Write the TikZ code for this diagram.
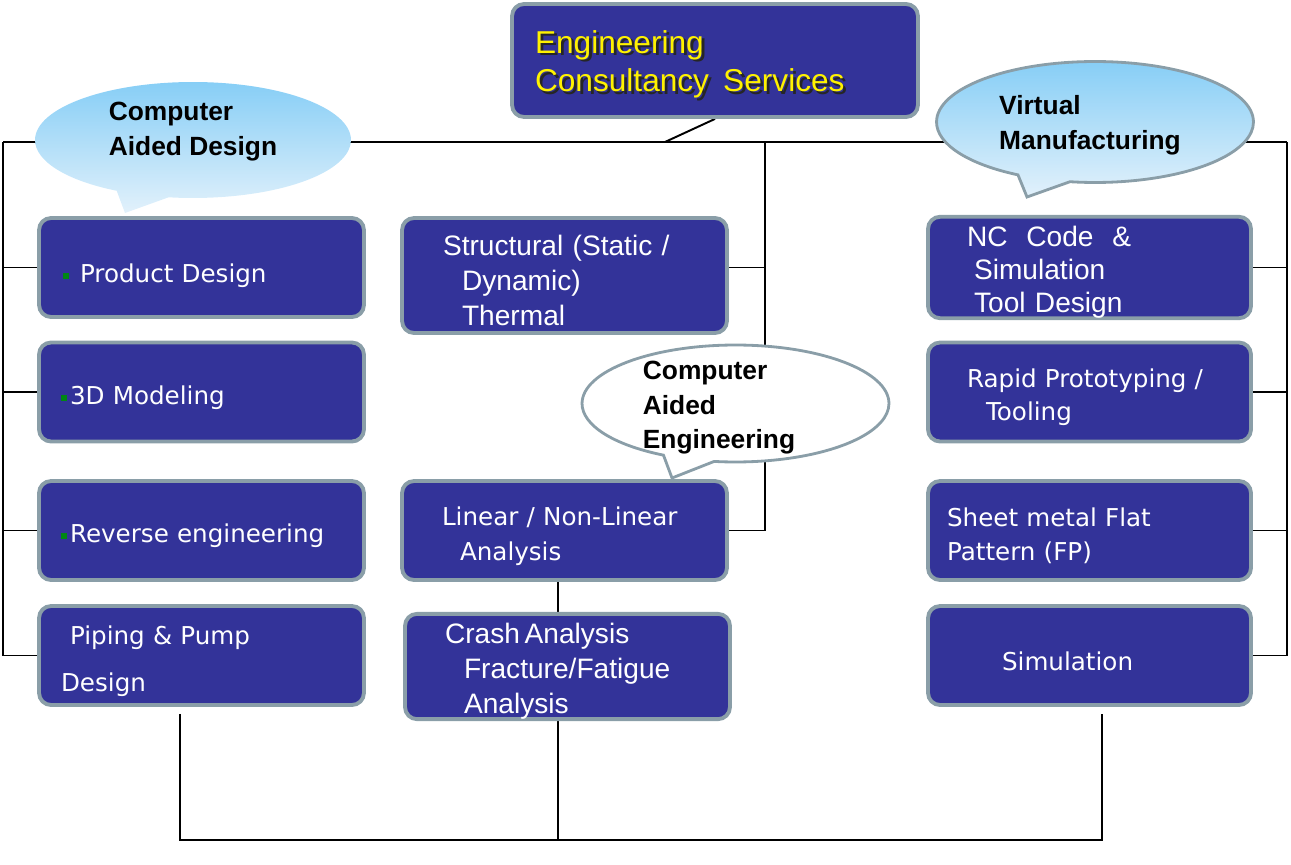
\documentclass[tikz,border=0pt]{standalone}
\usepackage{xcolor}
\usepackage{fontspec}
\setmainfont{Liberation Sans}
\newfontfamily\tahoma{DejaVu Sans}
\usepackage{tikz}
\usetikzlibrary{shapes.callouts}

\definecolor{boxblue}{RGB}{51,51,153}
\definecolor{boxrim}{RGB}{138,158,168}
\definecolor{skyblue}{RGB}{135,206,246}
\definecolor{paleblue}{RGB}{226,241,251}
\definecolor{bulletgreen}{RGB}{0,135,20}

\newlength\pxlen
\setlength\pxlen{0.02cm}
\newcommand\ind[1]{\hspace*{#1\pxlen}}
\newcommand\greendot{{\color{bulletgreen}\rule[0.07cm]{0.12cm}{0.12cm}}}
\newcommand\shadowed[1]{\makebox[0pt][l]{\kern1.6pt\raisebox{-1.6pt}{\color{black!85}#1}}{\color{yellow}#1}}
\newcommand\cloudtext[2]{\raisebox{#1}[0pt][0pt]{\begin{tabular}{@{}l@{}}#2\end{tabular}}}

\pgfdeclarelayer{background}
\pgfsetlayers{background,main}

\tikzset{
  service/.style={draw=boxrim, line width=2.2pt, fill=boxblue, rounded corners=0.24cm,
    text=white, align=left, inner sep=0pt, text width=6.5cm, minimum height=1.98cm,
    font=\fontsize{16}{19.8}\selectfont, execute at begin node=\rule{0pt}{17pt}},
  tservice/.style={service, font=\tahoma\fontsize{14}{19.8}\selectfont,
    execute at begin node=\rule{0pt}{16pt}},
  cloud/.style={ellipse callout, inner sep=0pt, callout pointer arc=20,
    font=\bfseries\fontsize{15}{19.8}\selectfont},
  link/.style={line width=1.1pt}
}

\begin{document}
\begin{tikzpicture}[x=0.02cm, y=-0.02cm]
\useasboundingbox (0,0) rectangle (1291,865);

\node[service, text width=8.12cm, minimum height=2.26cm, font=\fontsize{18}{22}\selectfont,
  execute at begin node=\rule{0pt}{19pt}] (ecs) at (715,60.5)
  {\ind{23}\shadowed{Engineering}\\\ind{23}\shadowed{Consultancy\hspace{0.45em}Services}};

\node[tservice, execute at begin node=\rule{0pt}{19.6pt}] (pd) at (201.5,267.5) {\ind{24}\greendot\ind{11}Product Design};
\node[tservice] (tdm) at (201.5,392) {\ind{22}\greendot\ind{3}3D Modeling};
\node[tservice] (rev) at (201.5,530.5) {\ind{22}\greendot\ind{3}Reverse engineering};
\node[tservice, font=\tahoma\fontsize{14}{26.6}\selectfont] (pip) at (201.5,655.5)
  {\ind{31}Piping \& Pump\\\ind{22}Design};

\node[service, minimum height=2.3cm, execute at begin node={}] (str) at (564.5,275.5)
  {\ind{41}Structural (Static /\\\ind{60}Dynamic)\\\ind{60}Thermal};
\node[tservice] (lin) at (564.5,530.5) {\ind{40}Linear / Non-Linear\\\ind{58}Analysis};
\node[service] (crash) at (567.5,666.5)
  {\ind{40}Crash\,Analysis\\\ind{59}Fracture/Fatigue\\\ind{59}Analysis};

\node[service, text width=6.46cm, font=\fontsize{16}{18.7}\selectfont] (nc) at (1089.5,267.5)
  {\ind{39}NC\ \ Code\ \ \&\\\ind{46}Simulation\\\ind{46}Tool Design};
\node[tservice, text width=6.46cm, font=\tahoma\fontsize{14}{18.7}\selectfont] (rp) at (1089.5,392)
  {\ind{39}Rapid Prototyping /\\\ind{58}Tooling};
\node[tservice, text width=6.46cm, font=\tahoma\fontsize{14}{19.3}\selectfont] (smf) at (1089.5,530.5)
  {\ind{19}Sheet metal Flat\\\ind{19}Pattern (FP)};
\node[tservice, text width=6.46cm, execute at begin node=\rule{0pt}{13pt}] (sim) at (1089.5,655.5) {\ind{74}Simulation};

\node[cloud, minimum width=6.32cm, minimum height=2.32cm, top color=skyblue, bottom color=paleblue,
  callout absolute pointer={(125,213)}] (cad) at (193,140)
  {\cloudtext{0.06cm}{Computer\\Aided Design}};
\node[cloud, minimum width=6.34cm, minimum height=2.42cm, draw=boxrim, line width=1.6pt,
  top color=skyblue, bottom color=paleblue, callout absolute pointer={(1027,197)}] (vm) at (1095,122)
  {\kern-0.2cm\cloudtext{-0.18cm}{Virtual\\Manufacturing}};
\node[cloud, minimum width=6.14cm, minimum height=2.34cm, draw=boxrim, line width=1.6pt, fill=white,
  callout absolute pointer={(672,478)}] (cae) at (735.5,403.5)
  {\cloudtext{-0.2cm}{Computer\\Aided\\Engineering}\kern0.66cm};

\begin{pgfonlayer}{background}
\coordinate (wl) at (3,142);
\coordinate (wr) at (1287,142);
\coordinate (hub) at (665,142);
\coordinate (mid) at (765,142);
\coordinate (fl) at (180,840);
\coordinate (fm) at (558,840);
\coordinate (fr) at (1102,840);
\draw[link] (wl) -- (wr);
\draw[link] (ecs.south) -- (hub);
\draw[link] (wl) |- (pip.west);
\foreach \n in {pd,tdm,rev}
  \draw[link] (wl |- \n.west) -- (\n.west);
\draw[link] (wr) |- (sim.east);
\foreach \n in {nc,rp,smf}
  \draw[link] (wr |- \n.east) -- (\n.east);
\draw[link] (mid) |- (lin.east);
\draw[link] (mid |- nc.east) -- (str.east |- nc.east);
\draw[link] (lin.south -| fm) -- (crash.north -| fm);
\draw[link] (crash.south -| fm) -- (fm);
\draw[link, shorten <=0.14cm, shorten >=0.14cm] (pip.south -| fl) -- (fl) -- (fr) -- (sim.south -| fr);
\end{pgfonlayer}
\end{tikzpicture}
\end{document}
